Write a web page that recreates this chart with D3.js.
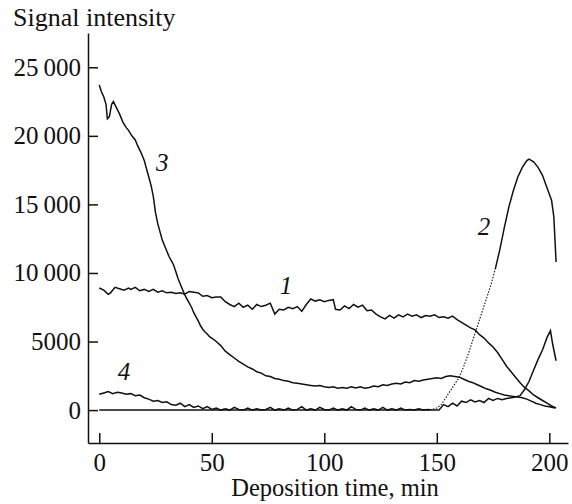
<!DOCTYPE html>
<html>
<head>
<meta charset="utf-8">
<script src="https://cdn.jsdelivr.net/npm/d3@7"></script>
<style>
  body { margin: 0; background: #fff; }
  text { font-family: "Liberation Serif", "Times New Roman", serif; fill: #111; }
</style>
</head>
<body>
<script>
// curve 1
const time1 = [0, 2, 4, 5, 7, 9, 11, 13, 14, 16, 18, 20, 22, 24, 26, 28, 30, 32, 34, 36, 38, 40, 42, 44, 46, 48, 50, 52, 54, 56, 58, 60, 62, 64, 66, 68, 70, 72, 74, 76, 78, 80, 82, 84, 86, 88, 90, 92, 94, 96, 98, 100, 102, 104, 105, 107, 109, 111, 113, 115, 117, 119, 121, 123, 125, 127, 129, 131, 133, 135, 137, 139, 141, 143, 145, 147, 149, 151, 153, 155, 157, 159, 161, 163, 165, 167, 169, 171, 173, 175, 177, 179, 181, 183, 185, 187, 189, 191, 193, 195, 197, 199, 201, 203];
const signal1 = [8900, 8750, 8450, 8550, 8950, 8850, 8750, 8900, 8800, 8950, 8700, 8800, 8650, 8800, 8600, 8700, 8550, 8600, 8500, 8550, 8450, 8650, 8600, 8550, 8300, 8350, 8200, 8250, 8250, 7900, 7700, 7550, 7800, 7500, 7650, 7350, 7700, 7550, 7650, 7800, 7000, 7350, 7300, 7500, 7400, 7550, 7200, 7700, 8100, 7950, 8050, 7900, 8000, 8050, 7350, 7300, 7600, 7400, 7700, 7500, 7650, 7250, 7300, 7000, 6800, 6650, 6900, 6700, 6950, 6800, 7000, 6850, 6950, 6750, 6900, 6850, 6950, 6750, 6800, 6700, 6850, 6600, 6400, 6200, 6000, 5850, 5500, 5250, 4900, 4600, 4200, 3700, 3200, 2800, 2400, 2000, 1650, 1400, 1100, 900, 700, 500, 300, 150];

// curve 2
const time2 = [0, 147, 150, 152, 154, 156, 158, 160, 162, 164, 166, 168, 170, 172, 174, 176, 178, 180, 182, 184, 186, 188, 190, 191, 193, 195, 197, 199, 201, 202, 203];
const signal2 = [0, 0, 150, 400, 900, 1400, 1900, 2400, 3200, 4100, 5100, 6100, 7100, 8100, 9100, 10300, 11700, 13300, 14800, 16000, 17000, 17700, 18200, 18300, 18100, 17700, 17100, 16200, 15300, 14100, 10800];

// curve 3
const time3 = [0, 1, 2, 3, 3.6, 4.5, 5.5, 6.3, 7.5, 9, 10.5, 12, 13, 14.5, 16, 17, 18.5, 20, 21, 22, 23, 24, 25, 26, 27, 28, 29, 30, 31, 32, 33, 34, 35, 36, 37, 38, 39, 40, 41, 42, 43, 44, 45, 46, 47, 48, 49, 50, 52, 54, 56, 58, 60, 62, 64, 66, 68, 70, 72, 74, 76, 78, 80, 82, 84, 86, 88, 90, 92, 94, 96, 98, 100, 102, 104, 106, 108, 110, 112, 114, 116, 118, 120, 122, 124, 126, 128, 130, 132, 134, 136, 138, 140, 142, 144, 146, 148, 150, 152, 154, 156, 158, 160, 162, 164, 166, 168, 170, 172, 174, 176, 178, 180, 182, 184, 186, 188, 190, 192, 194, 196, 198, 200, 202.5];
const signal3 = [23700, 23200, 22850, 22300, 21250, 21400, 22300, 22500, 22100, 21600, 21000, 20600, 20400, 20000, 19700, 19300, 18800, 18200, 17600, 17000, 16400, 15600, 14400, 13600, 13000, 12400, 12000, 11600, 11200, 10900, 10600, 10100, 9600, 9200, 8800, 8400, 8100, 7800, 7500, 7100, 6800, 6500, 6150, 5900, 5700, 5550, 5350, 5250, 5000, 4700, 4300, 4050, 3800, 3550, 3350, 3150, 3000, 2800, 2700, 2500, 2450, 2300, 2250, 2150, 2100, 2000, 1950, 1900, 1850, 1800, 1750, 1800, 1700, 1650, 1700, 1600, 1650, 1600, 1700, 1620, 1700, 1600, 1650, 1750, 1700, 1850, 1800, 1900, 1950, 1900, 2050, 2000, 2150, 2100, 2200, 2250, 2300, 2350, 2300, 2450, 2500, 2450, 2400, 2250, 2100, 2000, 1850, 1700, 1550, 1450, 1300, 1200, 1100, 1050, 1000, 950, 900, 800, 650, 500, 400, 300, 250, 150];

// curve 4
const time4 = [0, 2, 4, 6, 8, 10, 12, 14, 16, 18, 20, 22, 24, 26, 28, 30, 32, 34, 36, 38, 40, 42, 44, 46, 48, 50, 52, 54, 56, 58, 60, 62, 64, 66, 68, 70, 72, 74, 76, 78, 80, 82, 84, 86, 88, 90, 92, 94, 96, 98, 100, 102, 104, 106, 108, 110, 112, 114, 116, 118, 120, 122, 124, 126, 128, 130, 132, 134, 136, 138, 140, 142, 144, 146, 148, 151, 153, 155, 157, 159, 161, 163, 165, 167, 169, 171, 173, 175, 177, 179, 181, 183, 185, 187, 189, 191, 193, 195, 197, 199, 200.5, 201.5, 203];
const signal4 = [1150, 1250, 1350, 1200, 1300, 1250, 1150, 1200, 1050, 1100, 900, 800, 650, 700, 550, 600, 400, 350, 500, 250, 400, 200, 300, 100, 250, 50, 150, 0, 100, 0, 200, 50, 0, 150, 0, 100, 0, 50, 200, 0, 100, 0, 150, 0, 50, 250, 0, 100, 0, 200, 50, 0, 150, 0, 100, 0, 250, 50, 0, 150, 0, 100, 0, 200, 0, 100, 0, 150, 0, 50, 0, 100, 0, 50, 0, 0, 400, 250, 500, 300, 650, 550, 750, 600, 700, 550, 850, 700, 850, 750, 850, 900, 950, 1050, 1500, 2100, 2900, 3700, 4400, 5300, 5800, 4800, 3600];

const yTicks = [0, 5000, 10000, 15000, 20000, 25000];
const xTicks = [0, 50, 100, 150, 200];

const curveLabels = [
    { text: '1', t: 83, v: 8470 },
    { text: '2', t: 171, v: 12770 },
    { text: '3', t: 28, v: 17400 },
    { text: '4', t: 11, v: 2200 }
];

const width = 572;
const height = 504;

const svg = d3.select('body').append('svg')
    .attr('width', width)
    .attr('height', height);

const x = d3.scaleLinear().domain([-5, 208.3]).range([88, 568]);
const y = d3.scaleLinear().domain([-2400, 27500]).range([443, 33]);

const fmt = v => v >= 10000 ? d3.format('d')(v).replace(/(\d\d)(\d{3})$/, '$1\u2009$2') : String(v);

// axes, ticks pointing inward
const yAxis = svg.append('g')
    .attr('transform', 'translate(88,0)')
    .call(d3.axisLeft(y).tickValues(yTicks).tickSizeInner(-10).tickSizeOuter(0).tickPadding(7).tickFormat(fmt));

const xAxis = svg.append('g')
    .attr('transform', 'translate(0,443)')
    .call(d3.axisBottom(x).tickValues(xTicks).tickSizeInner(-10).tickSizeOuter(0).tickPadding(10));

svg.selectAll('.domain, .tick line')
    .attr('stroke', '#111')
    .attr('stroke-width', 1.5);

svg.selectAll('.tick text')
    .style('font-family', '"Liberation Serif", serif')
    .style('font-size', '25px')
    .attr('fill', '#111');

// axis titles
svg.append('text')
    .attr('x', 13)
    .attr('y', 26)
    .style('font-size', '26px')
    .text('Signal intensity');

svg.append('text')
    .attr('x', 335)
    .attr('y', 496)
    .attr('text-anchor', 'middle')
    .style('font-size', '24.5px')
    .text('Deposition time, min');

const line = d3.line()
    .x(d => x(d[0]))
    .y(d => y(d[1]));

const series = [
    d3.zip(time1, signal1),
    d3.zip(time3, signal3),
    d3.zip(time4, signal4)
];

svg.selectAll('path.curve')
    .data(series)
    .enter().append('path')
    .attr('class', 'curve')
    .attr('d', line)
    .attr('fill', 'none')
    .attr('stroke', '#111')
    .attr('stroke-width', 1.5);

// curve 2: the steep rise looks dotted in the original
const c2 = d3.zip(time2, signal2);
const c2Solid1 = c2.filter(d => d[0] <= 147);
const c2Dotted = c2.filter(d => d[0] >= 147 && d[0] <= 176);
const c2Solid2 = c2.filter(d => d[0] >= 176);

svg.append('path')
    .attr('d', line(c2Solid1))
    .attr('fill', 'none')
    .attr('stroke', '#111')
    .attr('stroke-width', 1.5);

svg.append('path')
    .attr('d', line(c2Dotted))
    .attr('fill', 'none')
    .attr('stroke', '#111')
    .attr('stroke-width', 1.1)
    .attr('stroke-dasharray', '1.5,1.5');

svg.append('path')
    .attr('d', line(c2Solid2))
    .attr('fill', 'none')
    .attr('stroke', '#111')
    .attr('stroke-width', 1.5);

svg.selectAll('text.curve-label')
    .data(curveLabels)
    .enter().append('text')
    .attr('class', 'curve-label')
    .attr('x', d => x(d.t))
    .attr('y', d => y(d.v))
    .attr('text-anchor', 'middle')
    .style('font-size', '25px')
    .style('font-style', 'italic')
    .text(d => d.text);
</script>
</body>
</html>
